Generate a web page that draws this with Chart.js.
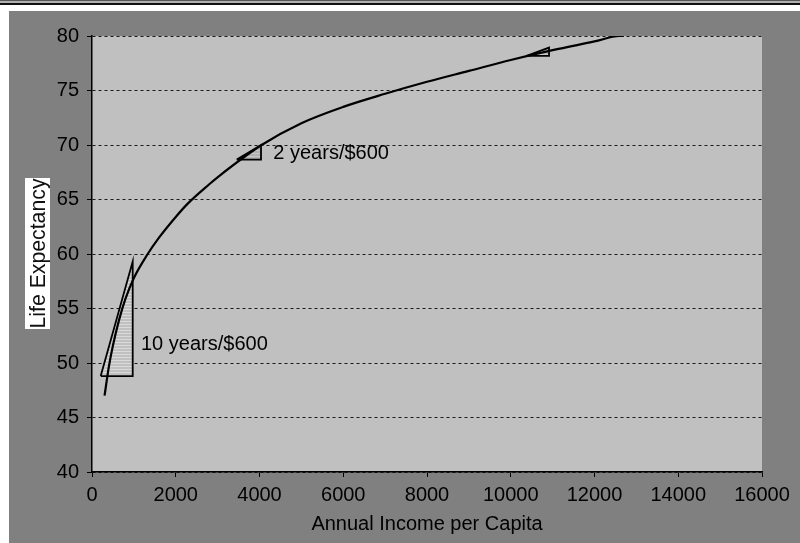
<!DOCTYPE html>
<html>
<head>
<meta charset="utf-8">
<script src="https://cdn.jsdelivr.net/npm/chart.js@4/dist/chart.umd.min.js"></script>
<style>
  html, body { margin: 0; padding: 0; background: #fff; }
  #c { display: block; }
</style>
</head>
<body>
<canvas id="c" width="800" height="543"></canvas>
<script>
// Life expectancy against annual income per capita
const incomes = [300, 400, 500, 650, 800, 1000, 1330, 1600, 2000, 2280, 2800, 3050, 4050, 5000, 6000, 7000, 8000, 9000, 10000, 11000, 12000, 12600, 12700];
const lifeExp = [47.0, 49.6, 51.6, 54.0, 55.9, 57.8, 60.0, 61.5, 63.4, 64.6, 66.4, 67.2, 70.0, 72.0, 73.5, 74.7, 75.8, 76.8, 77.8, 78.7, 79.5, 80.0, 80.0];

// slope triangles (income, years)
const lowTriX = [208, 972, 972, 208];
const lowTriY = [48.8, 48.8, 59.3, 48.8];
const midTriX = [3456, 4036, 4036, 3456];
const midTriY = [68.66, 68.66, 70.0, 68.66];
const highTriX = [10381, 10914, 10914, 10381];
const highTriY = [78.17, 78.17, 78.94, 78.17];

const xTicks = [0, 2000, 4000, 6000, 8000, 10000, 12000, 14000, 16000];
const yTicks = [40, 45, 50, 55, 60, 65, 70, 75, 80];

const lowLabel = '10 years/$600';
const midLabel = '2 years/$600';

const FONT = '"Liberation Sans", Arial, sans-serif';

function pts(xs, ys) { return xs.map((x, i) => ({ x: x, y: ys[i] })); }

function hatch(line, base) {
  const p = document.createElement('canvas');
  p.width = 4; p.height = 3;
  const g = p.getContext('2d');
  g.fillStyle = base; g.fillRect(0, 0, 4, 3);
  g.fillStyle = line; g.fillRect(0, 0, 4, 1);
  return g.createPattern(p, 'repeat');
}
const ctx = document.getElementById('c').getContext('2d');
const hatchLight = hatch('#dadada', '#c0c0c0');
const hatchDark = hatch('#c8c8c8', '#b2b2b2');

const backdrop = {
  id: 'backdrop',
  beforeDraw(chart) {
    const c = chart.ctx, a = chart.chartArea;
    c.save();
    c.fillStyle = '#fff'; c.fillRect(0, 0, 800, 543);
    c.fillStyle = '#555'; c.fillRect(0, 0, 800, 1);
    c.fillStyle = '#b0b0b0'; c.fillRect(0, 1, 800, 2);
    c.fillStyle = '#111'; c.fillRect(0, 3, 800, 2);
    c.fillStyle = '#808080'; c.fillRect(9, 11, 791, 532);
    c.fillStyle = '#c0c0c0'; c.fillRect(a.left, a.top, a.right - a.left, a.bottom - a.top);
    c.restore();
  },
  afterDraw(chart) {
    const c = chart.ctx, xs = chart.scales.x, ys = chart.scales.y;
    c.save();
    // slope labels
    c.fillStyle = '#000';
    c.font = '20px ' + FONT;
    c.textBaseline = 'middle';
    c.textAlign = 'left';
    c.fillText(lowLabel, xs.getPixelForValue(1170), ys.getPixelForValue(51.7));
    c.fillText(midLabel, xs.getPixelForValue(4330), ys.getPixelForValue(69.2));
    // vertical axis title on a white tag
    c.fillStyle = '#fff';
    c.fillRect(25, 178, 25, 151);
    c.translate(38, 253.5);
    c.rotate(-Math.PI / 2);
    c.filter = 'blur(0.6px)';
    c.fillStyle = '#111';
    c.font = '22px ' + FONT;
    c.textAlign = 'center';
    c.textBaseline = 'middle';
    c.fillText('Life Expectancy', 0, 1, 150);
    c.restore();
  }
};

function triangle(xs, ys, fillPattern) {
  return {
    data: pts(xs, ys),
    borderColor: '#000',
    borderWidth: 1.8,
    backgroundColor: fillPattern,
    fill: 'shape',
    pointRadius: 0,
    tension: 0,
    order: 2
  };
}

new Chart(ctx, {
  type: 'line',
  data: {
    datasets: [
      triangle(lowTriX, lowTriY, hatchLight),
      triangle(midTriX, midTriY, hatchDark),
      triangle(highTriX, highTriY, hatchDark),
      {
        data: pts(incomes, lifeExp),
        borderColor: '#000',
        borderWidth: 2.2,
        pointRadius: 0,
        fill: false,
        cubicInterpolationMode: 'monotone',
        order: 1
      }
    ]
  },
  options: {
    responsive: false,
    animation: false,
    devicePixelRatio: 1,
    layout: { padding: { left: 9, top: 36, right: 38, bottom: 0 } },
    plugins: { legend: { display: false }, tooltip: { enabled: false } },
    scales: {
      x: {
        type: 'linear',
        min: xTicks[0],
        max: xTicks[xTicks.length - 1],
        afterBuildTicks: s => { s.ticks = xTicks.map(v => ({ value: v })); },
        afterFit: s => { s.height = 71; },
        ticks: {
          color: '#000',
          font: { family: FONT, size: 20 },
          padding: 6,
          maxRotation: 0,
          autoSkip: false,
          callback: v => String(v)
        },
        grid: { drawOnChartArea: false, drawTicks: true, tickLength: 5, tickColor: '#000', tickWidth: 1 },
        border: { display: true, color: '#000', width: 1.5 },
        title: {
          display: true,
          text: 'Annual Income per Capita',
          color: '#000',
          font: { family: FONT, size: 20 },
          padding: { top: 0, bottom: 7 }
        }
      },
      y: {
        type: 'linear',
        min: yTicks[0],
        max: yTicks[yTicks.length - 1],
        afterBuildTicks: s => { s.ticks = yTicks.map(v => ({ value: v })); },
        afterFit: s => { s.width = 83; },
        ticks: {
          color: '#000',
          font: { family: FONT, size: 20 },
          padding: 8,
          callback: v => String(v)
        },
        grid: { color: '#1a1a1a', lineWidth: 1, tickLength: 5, tickColor: '#000', tickWidth: 1 },
        border: { display: true, color: '#000', width: 1.5, dash: [3, 3] }
      }
    }
  },
  plugins: [backdrop]
});
</script>
</body>
</html>
